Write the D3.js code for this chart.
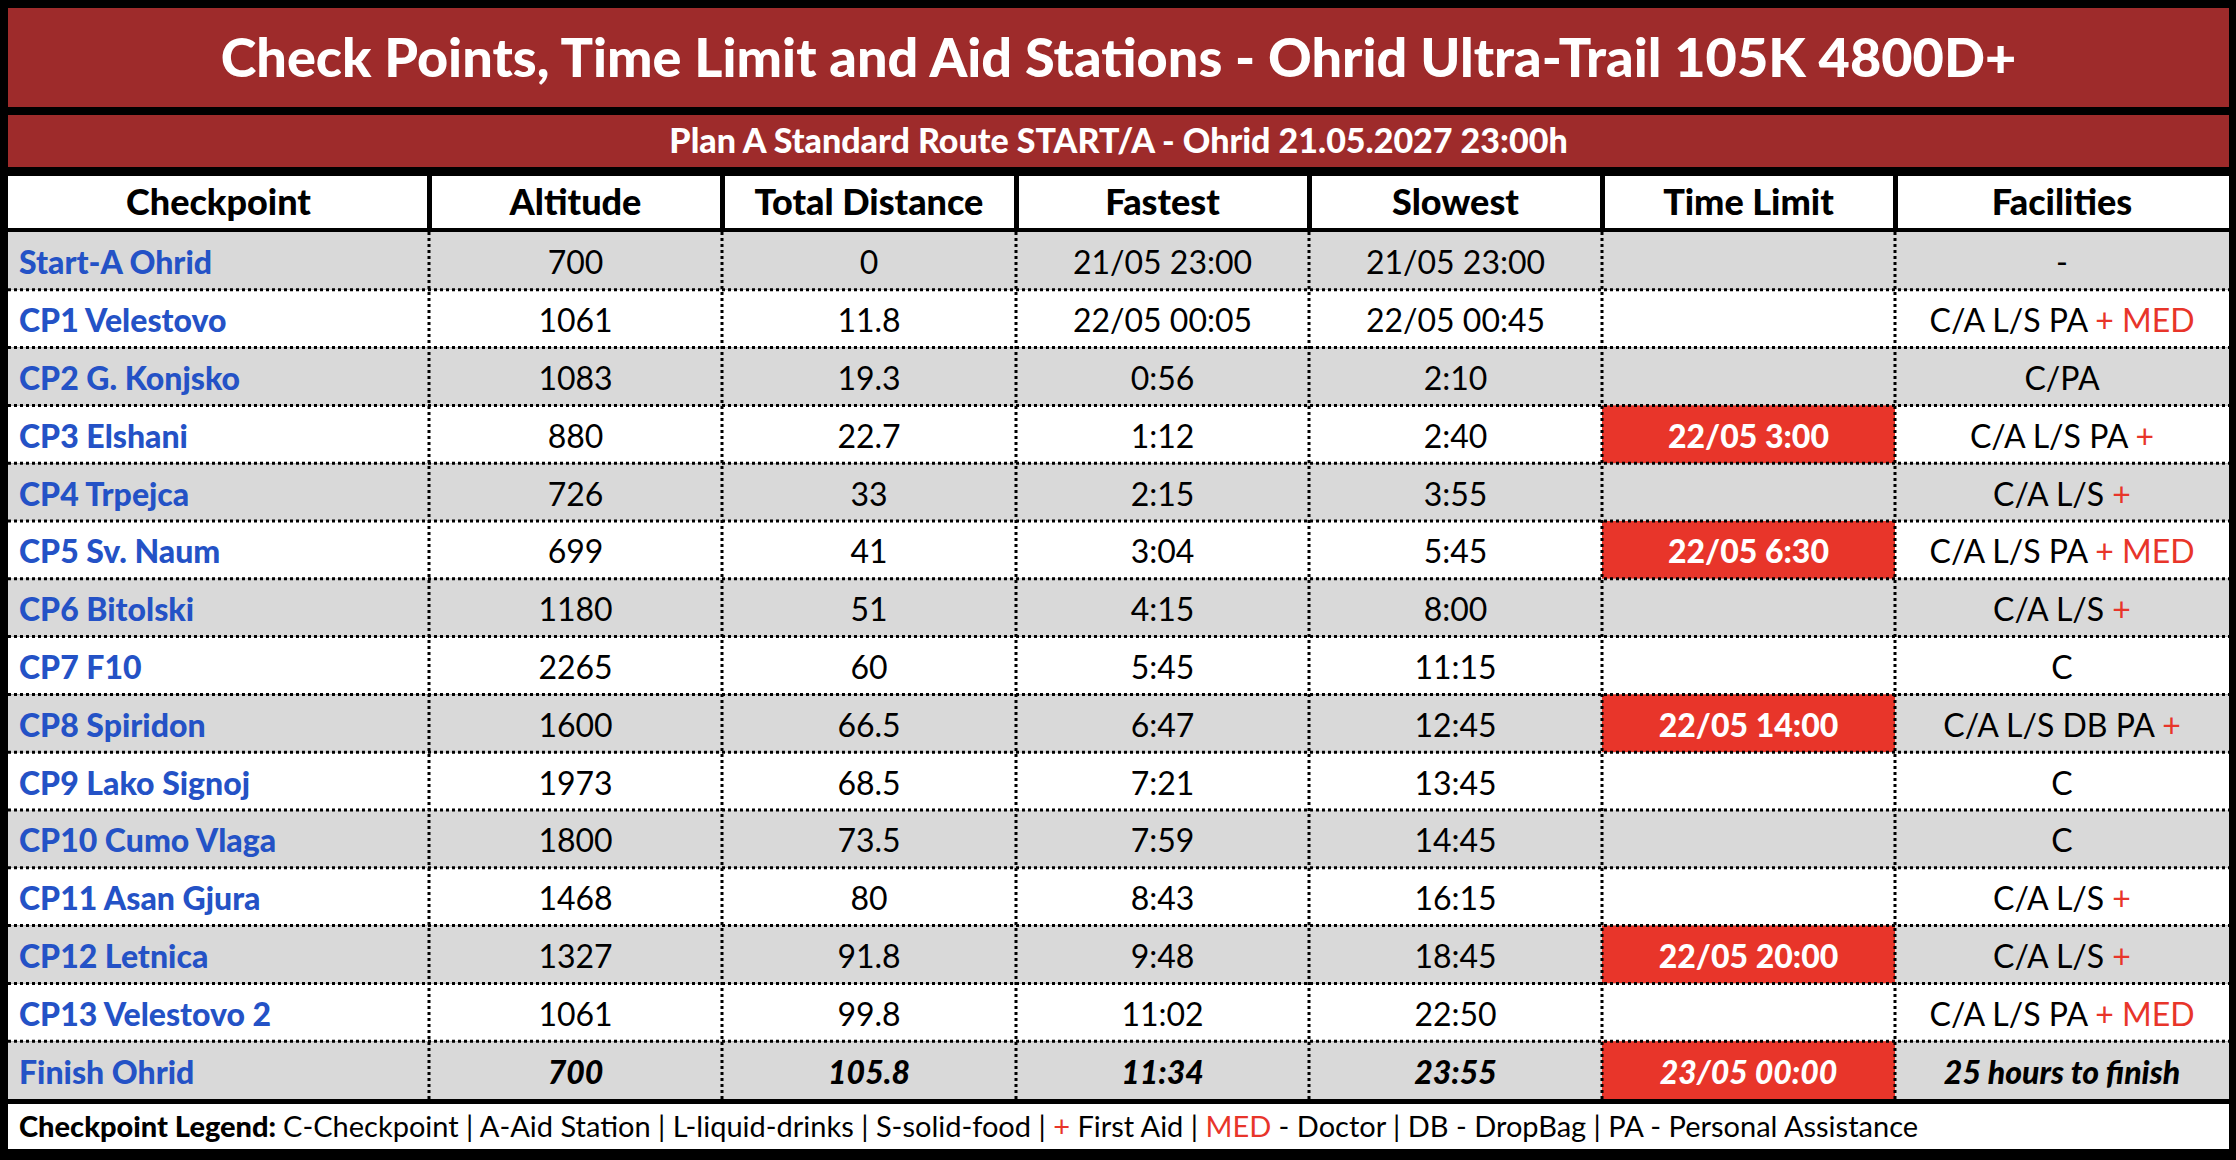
<!DOCTYPE html>
<html><head><meta charset="utf-8">
<script src="https://cdn.jsdelivr.net/npm/d3@7"></script>
<style>body{margin:0;background:#fff}svg{display:block}</style>
</head><body><svg id="c" width="2236" height="1160"></svg>
<script>
const checkpoints = ["Start-A Ohrid","CP1 Velestovo","CP2 G. Konjsko","CP3 Elshani","CP4 Trpejca","CP5 Sv. Naum","CP6 Bitolski","CP7 F10","CP8 Spiridon","CP9 Lako Signoj","CP10 Cumo Vlaga","CP11 Asan Gjura","CP12 Letnica","CP13 Velestovo 2","Finish Ohrid"];
const altitude = ["700","1061","1083","880","726","699","1180","2265","1600","1973","1800","1468","1327","1061","700"];
const distance = ["0","11.8","19.3","22.7","33","41","51","60","66.5","68.5","73.5","80","91.8","99.8","105.8"];
const fastest = ["21/05 23:00","22/05 00:05","0:56","1:12","2:15","3:04","4:15","5:45","6:47","7:21","7:59","8:43","9:48","11:02","11:34"];
const slowest = ["21/05 23:00","22/05 00:45","2:10","2:40","3:55","5:45","8:00","11:15","12:45","13:45","14:45","16:15","18:45","22:50","23:55"];
const timeLimit = ["","","","22/05 3:00","","22/05 6:30","","","22/05 14:00","","","","22/05 20:00","","23/05 00:00"];
const facilities = ["-","C/A L/S PA","C/PA","C/A L/S PA","C/A L/S","C/A L/S PA","C/A L/S","C","C/A L/S DB PA","C","C","C/A L/S","C/A L/S","C/A L/S PA","25 hours to finish"];
const facilitiesRed = ["","+ MED","","+","+","+ MED","+","","+","","","+","+","+ MED",""];
const headers = ["Checkpoint","Altitude","Total Distance","Fastest","Slowest","Time Limit","Facilities"];

const svg = d3.select("#c");
const F = "Lato, 'Open Sans', sans-serif";
const RED = "#e8352a", DARK = "#9e2b2b", BLUE = "#2452c6", GRAY = "#d9d9d9";
const edges = [8, 429, 722, 1016, 1309, 1602, 1895, 2229];
const L = edges[0], R = edges[7];

svg.append("rect").attr("width",2236).attr("height",1160).attr("fill","#000");
// title
svg.append("rect").attr("x",L).attr("y",8).attr("width",R-L).attr("height",99).attr("fill",DARK);
svg.append("text").attr("x",(L+R)/2).attr("y",58).attr("dy","0.35em").attr("text-anchor","middle")
  .attr("font-family",F).attr("font-weight",900).attr("font-size",54).attr("fill","#fff")
  .text("Check Points, Time Limit and Aid Stations - Ohrid Ultra-Trail 105K 4800D+");
svg.append("rect").attr("x",L).attr("y",115).attr("width",R-L).attr("height",52).attr("fill",DARK);
svg.append("text").attr("x",(L+R)/2).attr("y",141).attr("dy","0.35em").attr("text-anchor","middle")
  .attr("font-family",F).attr("font-weight",900).attr("font-size",34).attr("fill","#fff")
  .text("Plan A Standard Route START/A - Ohrid 21.05.2027 23:00h");

// header
headers.forEach((h,i)=>{
  svg.append("rect").attr("x",edges[i]+(i?3:0)).attr("y",176).attr("width",edges[i+1]-edges[i]-(i?3:0)-(i<6?2:0)).attr("height",52).attr("fill","#fff");
  svg.append("text").attr("x",(edges[i]+edges[i+1])/2).attr("y",202).attr("dy","0.36em").attr("text-anchor","middle")
    .attr("font-family",F).attr("font-weight",900).attr("font-size",36).attr("fill","#000").text(h);
});

const y = d3.scaleBand().domain(d3.range(checkpoints.length)).range([232,1099]);
const rows = svg.append("g");
const cols = [checkpoints, altitude, distance, fastest, slowest, timeLimit, facilities];
checkpoints.forEach((c,r)=>{
  const last = r === checkpoints.length-1;
  rows.append("rect").attr("x",L).attr("y",y(r)).attr("width",R-L).attr("height",y.bandwidth())
    .attr("fill", r%2===0 ? GRAY : "#fff");
  if (timeLimit[r]) rows.append("rect").attr("x",edges[5]).attr("y",y(r)).attr("width",edges[6]-edges[5]).attr("height",y.bandwidth()).attr("fill",RED);
  const cy = y(r)+y.bandwidth()/2+2;
  cols.forEach((arr,i)=>{
    const t = rows.append("text").attr("y",cy).attr("dy","0.36em").attr("font-family",F).attr("font-size",32);
    if (i===0) {
      t.attr("x",edges[0]+11).attr("fill",BLUE).attr("font-weight",900).text(arr[r]);
    } else {
      t.attr("x",(edges[i]+edges[i+1])/2).attr("text-anchor","middle")
        .attr("fill", i===5 ? "#fff" : "#000")
        .attr("font-weight", (i===5||last) ? 900 : 400)
        .attr("font-style", last ? "italic" : null);
      t.append("tspan").text(arr[r]);
      if (i===6 && facilitiesRed[r]) t.append("tspan").attr("fill",RED).text(" "+facilitiesRed[r]);
    }
  });
  if (r>0) rows.append("line").attr("x1",L).attr("x2",R).attr("y1",y(r)).attr("y2",y(r))
    .attr("stroke","#000").attr("stroke-width",3).attr("stroke-dasharray","3,3");
});
edges.slice(1,7).forEach(x=>{
  svg.append("line").attr("x1",x).attr("x2",x).attr("y1",232).attr("y2",1099)
    .attr("stroke","#000").attr("stroke-width",3).attr("stroke-dasharray","3,3");
});

// legend
svg.append("rect").attr("x",L).attr("y",1104).attr("width",R-L).attr("height",45).attr("fill","#fff");
const lg = svg.append("text").attr("x",L+11).attr("y",1127).attr("dy","0.36em").attr("font-family",F).attr("font-size",29).attr("fill","#000");
const parts = [["Checkpoint Legend: ","#000",900],["C-Checkpoint | A-Aid Station | L-liquid-drinks | S-solid-food | ","#000",400],["+","#e8352a",400],[" First Aid | ","#000",400],["MED","#e8352a",400],[" - Doctor | DB - DropBag | PA - Personal Assistance","#000",400]];
parts.forEach(p=>lg.append("tspan").attr("fill",p[1]).attr("font-weight",p[2]).style("white-space","pre").text(p[0]));
</script></body></html>
